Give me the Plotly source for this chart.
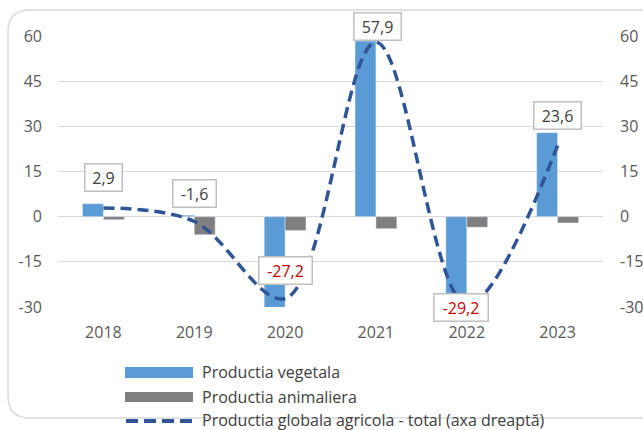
import plotly.graph_objects as go

years = ["2018", "2019", "2020", "2021", "2022", "2023"]
vegetala = [4.3, 0.5, -31.0, 58.3, -31.5, 27.9]
animaliera = [-1.0, -6.0, -4.6, -4.0, -3.5, -2.1]
total = [2.9, -1.6, -27.2, 57.9, -29.2, 23.6]
y_ticks = [-30, -15, 0, 15, 30, 45, 60]

BLUE = "#5B9BD5"
GREY = "#7F7F7F"
LINE = "#2F5597"
TXT = "#595959"
FONT = "Open Sans"

# plot area in pixels (643x430 page)
L, R, T, B = 58, 603, 36, 307
W, H = R - L, B - T


def px(x):
    return (x - L) / W


def py(y):
    return (B - y) / H


fig = go.Figure()
fig.add_trace(go.Bar(x=years, y=vegetala, name="Productia vegetala", marker_color=BLUE, yaxis="y"))
fig.add_trace(go.Bar(x=years, y=animaliera, name="Productia animaliera", marker_color=GREY, yaxis="y"))
fig.add_trace(go.Scatter(x=years, y=total, name="Productia globala agricola - total (axa dreaptă)",
                         mode="lines", yaxis="y2",
                         line=dict(color=LINE, width=3.5, dash="11px,6px", shape="spline", smoothing=1.0)))

# data labels for the total line
shifts = [(0, 30), (0, 28), (0, 28), (1.5, 16), (-5.5, -3), (0, 30)]
widths = [30, 36, 46, 40, 47, 40]
annotations = []
for i, v in enumerate(total):
    annotations.append(dict(
        x=i, y=v, xref="x", yref="y2", showarrow=False,
        text=f"{v:.1f}".replace(".", ","),
        xshift=shifts[i][0], yshift=shifts[i][1],
        width=widths[i], height=20,
        bgcolor="white", bordercolor="#BFBFBF", borderwidth=1.5, borderpad=3,
        font=dict(family=FONT, size=16, color="#C00000" if v < -20 else "#404040"),
    ))

# manual legend
legend_rows = [(372, "Productia vegetala"), (397, "Productia animaliera"),
               (420, "Productia globala agricola - total (axa dreaptă)")]
for y, name in legend_rows:
    annotations.append(dict(x=px(200), y=py(y), xref="paper", yref="paper", showarrow=False,
                            xanchor="left", yanchor="middle", text=name,
                            font=dict(family=FONT, size=16, color="#404040")))

shapes = [
    dict(type="rect", xref="paper", yref="paper", x0=px(125), x1=px(193), y0=py(367), y1=py(378),
         fillcolor=BLUE, line_width=0),
    dict(type="rect", xref="paper", yref="paper", x0=px(125), x1=px(193), y0=py(392), y1=py(402),
         fillcolor=GREY, line_width=0),
    dict(type="line", xref="paper", yref="paper", x0=px(126), x1=px(193), y0=py(421), y1=py(421),
         line=dict(color=LINE, width=4, dash="12px,6px")),
]

# rounded chart border
bl, bt, br, bb, rad = 8, 10, 660, 418, 22
path = (f"M {px(bl)},{py(bt + rad)} Q {px(bl)},{py(bt)} {px(bl + rad)},{py(bt)} "
        f"L {px(br)},{py(bt)} L {px(br)},{py(bb)} L {px(bl + rad)},{py(bb)} "
        f"Q {px(bl)},{py(bb)} {px(bl)},{py(bb - rad)} Z")
shapes.append(dict(type="path", xref="paper", yref="paper", path=path,
                   line=dict(color="#D9D9D9", width=1.5), layer="below"))

yaxis_common = dict(range=[-30, 60], tickvals=y_ticks, ticktext=[str(t) for t in y_ticks],
                    tickfont=dict(family=FONT, size=16, color=TXT), automargin=False)

fig.update_layout(
    width=643, height=430,
    margin=dict(l=L, r=643 - R, t=T, b=430 - B),
    paper_bgcolor="white", plot_bgcolor="white",
    barmode="group", bargap=0.54, bargroupgap=0,
    showlegend=False,
    font=dict(family=FONT, color=TXT),
    xaxis=dict(type="category", range=[-0.5, len(years) - 0.5], showgrid=False, showline=False,
               ticks="", tickfont=dict(family=FONT, size=16, color=TXT), ticklabelstandoff=14,
               automargin=False),
    yaxis=dict(showgrid=True, gridcolor="#D9D9D9", gridwidth=1, zeroline=True,
               zerolinecolor="#D9D9D9", zerolinewidth=1, ticklabelstandoff=15, **yaxis_common),
    yaxis2=dict(overlaying="y", side="right", showgrid=False, zeroline=False,
                ticklabelstandoff=16, **yaxis_common),
    annotations=annotations,
    shapes=shapes,
)

fig.write_html("out.html", config={"displayModeBar": False},
               post_script="document.body.style.margin='0px';")
